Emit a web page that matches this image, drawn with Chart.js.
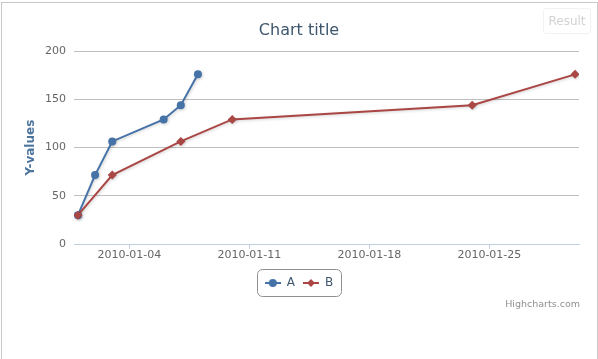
<!DOCTYPE html>
<html lang="en">
<head>
    <meta charset="UTF-8">
    <title>Chart title</title>
    <style>
        html, body {
            margin: 0;
            padding: 0;
            background: #ffffff;
        }

        body {
            position: relative;
            width: 598px;
            height: 359px;
            overflow: hidden;
            font-family: 'DejaVu Sans', Verdana, sans-serif;
        }

        .wrap {
            position: absolute;
            left: 0;
            top: 0;
            width: 598px;
            height: 359px;
        }

        /* thin frame of the page (no bottom edge) */
        .frame {
            position: absolute;
            left: 1px;
            top: 2px;
            right: 0;
            bottom: -5px;
            border: 1px solid #c8c8c8;
            border-bottom: none;
            pointer-events: none;
        }

        .result {
            position: absolute;
            left: 543px;
            top: 8px;
            width: 46px;
            height: 24px;
            border: 1px solid #f2f2f2;
            border-radius: 3px;
            color: #d2d2d2;
            font-size: 12px;
            line-height: 24px;
            text-align: center;
        }

        .credits {
            position: absolute;
            right: 18px;
            top: 298px;
            font-size: 9.5px;
            color: #909090;
        }
    </style>
    <script src="https://cdn.jsdelivr.net/npm/chart.js"></script>
</head>
<body>
    <div class="wrap"><canvas id="chart"></canvas></div>
    <div class="frame"></div>
    <div class="result">Result</div>
    <div class="credits">Highcharts.com</div>

    <script>
        // data
        const aDates = ['2010-01-01', '2010-01-02', '2010-01-03', '2010-01-06', '2010-01-07', '2010-01-08'];
        const aValues = [29.9, 71.5, 106.4, 129.2, 144.0, 176.0];
        const bDates = ['2010-01-01', '2010-01-03', '2010-01-07', '2010-01-10', '2010-01-24', '2010-01-30'];
        const bValues = [29.9, 71.5, 106.4, 129.2, 144.0, 176.0];
        const xTickLabels = ['2010-01-04', '2010-01-11', '2010-01-18', '2010-01-25'];
        const yTickStep = 50;

        const FONT = "'DejaVu Sans', Verdana, sans-serif";
        const BLUE = '#4572A7';
        const RED = '#AA4643';

        // day of January 2010
        function dayOf(s) {
            return Number(s.slice(8, 10));
        }

        function toPoints(dates, values) {
            return dates.map((d, i) => ({ x: dayOf(d), y: values[i] }));
        }

        // small "line + marker" icon for the legend
        function legendIcon(color, style) {
            const c = document.createElement('canvas');
            c.width = 16;
            c.height = 10;
            const g = c.getContext('2d');
            g.strokeStyle = color;
            g.lineWidth = 2;
            g.beginPath();
            g.moveTo(0, 5);
            g.lineTo(16, 5);
            g.stroke();
            g.fillStyle = color;
            g.beginPath();
            if (style === 'circle') {
                g.arc(8, 5, 4, 0, Math.PI * 2);
            } else {
                g.moveTo(8, 1);
                g.lineTo(12, 5);
                g.lineTo(8, 9);
                g.lineTo(4, 5);
                g.closePath();
            }
            g.fill();
            return c;
        }

        // soft shadow under the series, like the original
        const lineShadow = {
            id: 'lineShadow',
            beforeDatasetDraw(chart) {
                const c = chart.ctx;
                c.save();
                c.shadowColor = 'rgba(0, 0, 0, 0.18)';
                c.shadowBlur = 3;
                c.shadowOffsetX = 1;
                c.shadowOffsetY = 1;
            },
            afterDatasetDraw(chart) {
                chart.ctx.restore();
            }
        };

        // rounded box around the legend items
        const legendFrame = {
            id: 'legendFrame',
            afterDraw(chart) {
                const boxes = chart.legend.legendHitBoxes;
                if (!boxes || !boxes.length) return;
                const left = Math.min(...boxes.map(b => b.left)) - 8;
                const right = Math.max(...boxes.map(b => b.left + b.width)) + 8;
                const cy = boxes[0].top + boxes[0].height / 2;
                const c = chart.ctx;
                c.save();
                c.strokeStyle = '#909090';
                c.lineWidth = 1;
                c.beginPath();
                c.roundRect(Math.round(left) + 0.5, Math.round(cy - 14) + 0.5, Math.round(right - left), 27, 5);
                c.stroke();
                c.restore();
            }
        };

        const ctx = document.getElementById('chart').getContext('2d');
        new Chart(ctx, {
            type: 'line',
            data: {
                datasets: [
                    {
                        label: 'A',
                        data: toPoints(aDates, aValues),
                        borderColor: BLUE,
                        backgroundColor: BLUE,
                        borderWidth: 2,
                        pointStyle: 'circle',
                        pointRadius: 4,
                        pointBorderWidth: 0,
                        tension: 0,
                        order: 1,
                        legendIcon: legendIcon(BLUE, 'circle')
                    },
                    {
                        label: 'B',
                        data: toPoints(bDates, bValues),
                        borderColor: RED,
                        backgroundColor: RED,
                        borderWidth: 2,
                        pointStyle: 'rectRot',
                        pointRadius: 4.5,
                        pointBorderWidth: 0,
                        tension: 0,
                        order: 0,
                        legendIcon: legendIcon(RED, 'diamond')
                    }
                ]
            },
            options: {
                responsive: true,
                maintainAspectRatio: false,
                animation: false,
                layout: {
                    padding: { left: 0, right: 0, top: 0, bottom: 60 }
                },
                scales: {
                    x: {
                        type: 'linear',
                        min: 0.77,
                        max: 30.23,
                        afterBuildTicks: (scale) => {
                            scale.ticks = xTickLabels.map(s => ({ value: dayOf(s) }));
                        },
                        afterFit: (scale) => {
                            scale.height = 25;
                        },
                        ticks: {
                            padding: 0,
                            maxRotation: 0,
                            autoSkip: false,
                            color: '#666666',
                            font: { family: FONT, size: 11 },
                            callback: (v) => xTickLabels.find(s => dayOf(s) === v) || ''
                        },
                        grid: {
                            drawOnChartArea: false,
                            drawTicks: true,
                            tickLength: 5,
                            color: '#C0D0E0'
                        },
                        border: { display: true, color: '#C0D0E0', width: 1 }
                    },
                    y: {
                        min: 0,
                        max: 200,
                        afterFit: (scale) => {
                            scale.width = 74;
                        },
                        ticks: {
                            stepSize: yTickStep,
                            padding: 8,
                            color: '#666666',
                            font: { family: FONT, size: 11 }
                        },
                        grid: {
                            drawTicks: false,
                            color: (c) => (c.tick && c.tick.value === 0 ? 'rgba(0,0,0,0)' : '#C0C0C0')
                        },
                        border: { display: false },
                        title: {
                            display: true,
                            text: 'Y-values',
                            color: '#4D759E',
                            font: { family: FONT, size: 12, weight: 'bold' },
                            padding: { top: 24, bottom: 0 }
                        }
                    },
                    // empty right-hand axis: keeps the plot's right margin while title and legend stay centred on the page
                    yRight: {
                        position: 'right',
                        display: true,
                        min: 0,
                        max: 200,
                        afterFit: (scale) => {
                            scale.width = 19;
                        },
                        ticks: { display: false },
                        grid: { display: false, drawTicks: false },
                        border: { display: false }
                    }
                },
                plugins: {
                    title: {
                        display: true,
                        text: 'Chart title',
                        color: '#3E576F',
                        font: { family: FONT, size: 16, weight: 'normal' },
                        padding: { top: 21, bottom: 11 }
                    },
                    legend: {
                        display: true,
                        position: 'bottom',
                        labels: {
                            usePointStyle: true,
                            pointStyleWidth: 16,
                            padding: 8,
                            color: '#3E576F',
                            font: { family: FONT, size: 12 },
                            sort: (a, b) => a.datasetIndex - b.datasetIndex,
                            generateLabels: (chart) => {
                                const items = Chart.defaults.plugins.legend.labels.generateLabels(chart);
                                items.forEach(it => {
                                    it.pointStyle = chart.data.datasets[it.datasetIndex].legendIcon;
                                    it.fontColor = '#3E576F';
                                });
                                return items;
                            }
                        }
                    },
                    tooltip: { enabled: false }
                }
            },
            plugins: [lineShadow, legendFrame]
        });
    </script>
</body>
</html>
